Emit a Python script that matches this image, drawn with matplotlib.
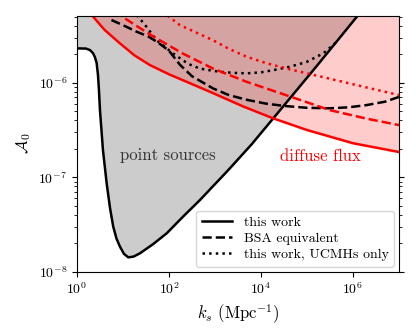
import numpy as np
import matplotlib
matplotlib.use("Agg")
import matplotlib.pyplot as plt
from matplotlib.ticker import NullLocator

plt.rcParams["font.family"] = "serif"
plt.rcParams["font.serif"] = ["cmr10"]
plt.rcParams["mathtext.fontset"] = "cm"
plt.rcParams["axes.formatter.use_mathtext"] = True

# log10(k_s), log10(A_0)
this_work_logk = [0.0, 0.196, 0.283, 0.348, 0.39, 0.428, 0.457, 0.478, 0.5, 0.565, 0.646, 0.72,
                  0.789, 0.86, 0.935, 1.02, 1.115, 1.23, 1.37, 1.65, 1.95, 2.3, 2.674, 3.29,
                  3.8, 4.267, 5.2, 6.115, 6.5]
this_work_logA = [-5.636, -5.638, -5.654, -5.686, -5.728, -5.791, -5.918, -6.077, -6.289, -6.712,
                  -7.065, -7.33, -7.524, -7.65, -7.735, -7.81, -7.848, -7.84, -7.805, -7.71,
                  -7.594, -7.42, -7.241, -6.924, -6.65, -6.377, -5.83, -5.283, -5.05]

diffuse_logk = [0.15, 0.32, 0.6, 0.935, 1.25, 1.587, 2.0, 2.385, 2.96, 3.61, 4.267, 5.0, 6.0, 7.0]
diffuse_logA = [-5.2, -5.283, -5.44, -5.583, -5.71, -5.813, -5.91, -5.99, -6.11, -6.25, -6.377,
                -6.5, -6.64, -6.733]

bsa_diffuse_logk = [0.8, 0.93, 1.3, 1.66, 2.3, 2.96, 3.69, 4.6, 5.5, 6.3, 7.0]
bsa_diffuse_logA = [-5.25, -5.283, -5.4, -5.51, -5.69, -5.85, -5.99, -6.14, -6.29, -6.38, -6.448]

ucmh_diffuse_logk = [1.85, 1.95, 2.24, 2.6, 2.96, 3.3, 3.69, 4.1, 4.41, 4.7, 5.35, 6.08, 7.0]
ucmh_diffuse_logA = [-5.25, -5.283, -5.39, -5.47, -5.55, -5.64, -5.725, -5.79, -5.83, -5.866,
                     -5.94, -6.025, -6.13]

bsa_logk = [0.75, 1.0, 1.3, 1.55, 1.75, 2.0, 2.24, 2.5, 2.96, 3.3, 3.69, 4.1, 4.5, 5.0, 5.5,
            5.9, 6.3, 6.7, 7.0]
bsa_logA = [-5.336, -5.39, -5.46, -5.51, -5.57, -5.66, -5.81, -5.93, -6.06, -6.13, -6.18, -6.22,
            -6.245, -6.265, -6.27, -6.26, -6.236, -6.2, -6.15]

ucmh_logk = [1.3, 1.5, 1.73, 2.09, 2.42, 2.67, 3.1, 3.4, 3.69, 4.0, 4.27, 4.63, 4.99, 5.35,
             5.57, 5.64]
ucmh_logA = [-5.283, -5.4, -5.55, -5.69, -5.8, -5.85, -5.884, -5.895, -5.9, -5.89, -5.866,
             -5.83, -5.78, -5.69, -5.6, -5.57]

k = lambda a: 10.0 ** np.array(a)

fig = plt.figure(figsize=(4.16, 3.34), dpi=100)
ax = fig.add_axes([0.185, 0.1865, 0.774, 0.7665])

top = 1e-4
ax.fill_between(k(this_work_logk), k(this_work_logA), top, color="0.8", lw=0)
ax.fill_between(k(diffuse_logk), k(diffuse_logA), top, color="red", alpha=0.2, lw=0)

lw = 1.8
ax.plot(k(this_work_logk), k(this_work_logA), "k-", lw=lw, label="this work")
ax.plot(k(bsa_logk), k(bsa_logA), "k--", lw=lw, label="BSA equivalent")
ax.plot(k(ucmh_logk), k(ucmh_logA), "k:", lw=lw, label="this work, UCMHs only")
ax.plot(k(diffuse_logk), k(diffuse_logA), "r-", lw=lw)
ax.plot(k(bsa_diffuse_logk), k(bsa_diffuse_logA), "r--", lw=lw)
ax.plot(k(ucmh_diffuse_logk), k(ucmh_diffuse_logA), "r:", lw=lw)

ax.text(10 ** 1.98, 10 ** -6.765, "point sources", color="0.2", fontsize=12,
        ha="center", va="center")
ax.text(10 ** 5.3, 10 ** -6.78, "diffuse flux", color="red", fontsize=12,
        ha="center", va="center")

ax.set_xscale("log")
ax.set_yscale("log")
ax.set_xlim(1, 1e7)
ax.set_ylim(1e-8, 10 ** -5.29)
ax.set_xticks([1, 1e2, 1e4, 1e6])
ax.xaxis.set_minor_locator(NullLocator())
ax.tick_params(axis="y", which="both", right=True)
ax.set_xlabel(r"$k_s$ (Mpc$^{-1}$)", fontsize=12)
ax.set_ylabel(r"$\mathcal{A}_0$", fontsize=12)
ax.legend(loc="lower right", fontsize=10, labelspacing=0.25, handlelength=2.2,
          borderaxespad=0.35)

fig.savefig("out.png", dpi=100)
